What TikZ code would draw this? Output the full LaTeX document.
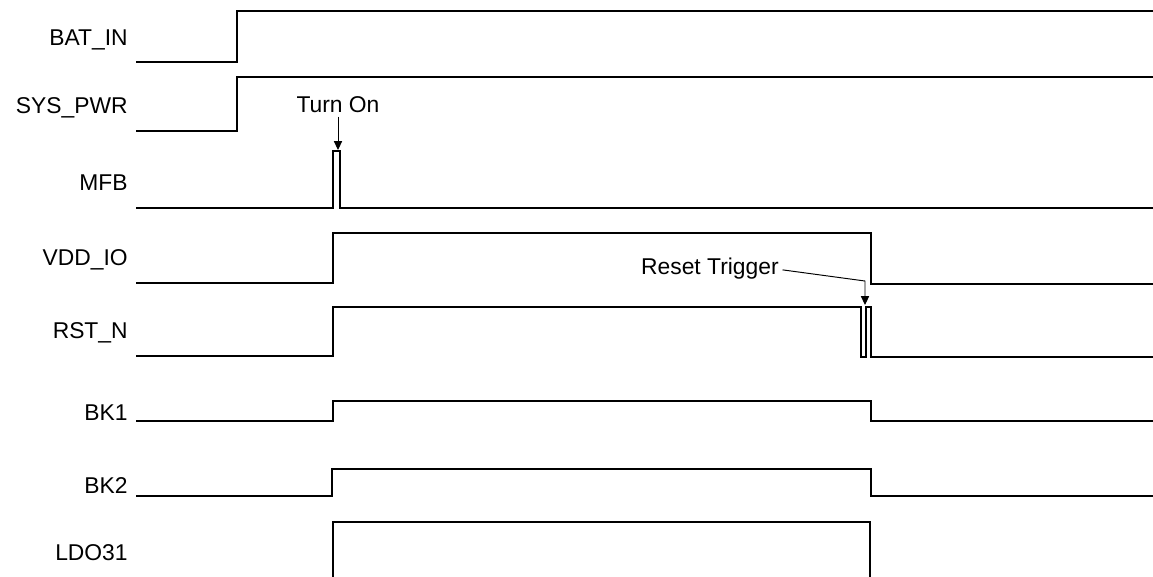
\documentclass[tikz,border=0pt]{standalone}
\usepackage{fontspec}
\setmainfont{Liberation Sans}
\usetikzlibrary{arrows.meta,positioning}

\begin{document}
\begin{tikzpicture}[x=0.02cm,y=-0.02cm,>={Triangle[length=5pt,width=4.6pt]},
  sig/.style={line width=1.5pt,line join=miter},
  lbl/.style={anchor=base east,inner sep=0pt,font=\fontsize{13}{15}\selectfont},
  note/.style={inner sep=0pt,font=\fontsize{13}{15}\selectfont},
  ptr/.style={line width=0.55pt}]
\useasboundingbox (0,0) rectangle (1153,576);
\foreach \n/\y/\t in {bat/45/BAT\_IN,sys/113/SYS\_PWR,mfb/190/MFB,vdd/265/VDD\_IO,
                      rst/338/RST\_N,bka/420/BK1,bkb/493/BK2,ldo/560/LDO31}{
  \node[lbl] (\n) at (128,\y) {\t};
}
\draw[sig] (136,62) -- (237,62) -- (237,11) -- (1153,11);
\draw[sig] (136,131) -- (237,131) -- (237,77) -- (1153,77);
\draw[sig] (136,208) -- (333,208) -- (333,151) -- (340,151) -- (340,208) -- (1153,208);
\draw[sig] (136,283) -- (333,283) -- (333,233) -- (871,233) -- (871,284) -- (1153,284);
\draw[sig] (136,356) -- (333,356) -- (333,307) -- (861,307) -- (861,357) -- (866,357)
  -- (866,307) -- (871,307) -- (871,357) -- (1153,357);
\draw[sig] (136,421) -- (333,421) -- (333,401) -- (871,401) -- (871,421) -- (1153,421);
\draw[sig] (136,496) -- (332,496) -- (332,469) -- (871,469) -- (871,496) -- (1153,496);
\draw[sig] (333,578) -- (333,522) -- (870,522) -- (870,578);
\node[note,anchor=base] (ton) at (338,112) {Turn On};
\coordinate (mfbtop) at (338,150);
\draw[ptr,->] (ton.south) ++(0,4) -- (mfbtop);
\node[note,anchor=base east] (rtrg) at (779,274) {Reset Trigger};
\coordinate (rbend) at (865,281);
\coordinate (rsttop) at (865,305);
\draw[ptr,->] ([xshift=2pt,yshift=-1pt]rtrg.east) -- (rbend) -- (rsttop);
\end{tikzpicture}
\end{document}
